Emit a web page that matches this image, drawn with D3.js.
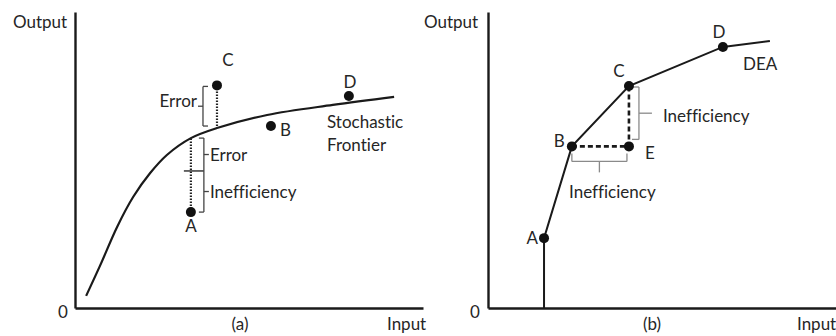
<!DOCTYPE html>
<html>
<head>
<meta charset="utf-8">
<script src="https://cdnjs.cloudflare.com/ajax/libs/d3/7.8.5/d3.min.js"></script>
<style>
  body { margin: 0; background: #fff; }
  text { font-family: Lato, "Open Sans", sans-serif; font-size: 17px; fill: #262626; font-variant-ligatures: none; }
</style>
</head>
<body>
<svg id="chart"></svg>
<script>
// panel (a): stochastic frontier (input, output on 0-100)
var frontierX = [3.2, 7.2, 12.1, 16.7, 21.6, 26.4, 33.3, 40.8, 55.2, 74.1, 91.7];
var frontierY = [4.1, 14.3, 27.4, 37.5, 45.6, 51.7, 57.4, 60.8, 65.2, 68.6, 71.3];
var sfNames = ["A", "B", "C", "D"];
var sfX = [33.3, 56.3, 40.8, 78.7];
var sfY = [32.4, 61.5, 75.2, 71.6];
var splitA = 46.3; // where error ends and inefficiency starts under A

// panel (b): DEA frontier
var deaX = [16.1, 16.1, 24.1, 40.5, 67.5, 81.0];
var deaY = [0, 23.6, 54.6, 75.0, 88.2, 90.2];
var deaNames = ["A", "B", "C", "D"];
var deaPtX = [16.1, 24.1, 40.5, 67.5];
var deaPtY = [23.6, 54.6, 75.0, 88.2];
var eX = 40.5, eY = 54.6;

var screen = { width: 836, height: 336 };

var svg = d3.select('#chart')
            .attr('width', screen.width)
            .attr('height', screen.height);

var yScale = d3.scaleLinear().domain([0, 100]).range([308, 12]);
var xA = d3.scaleLinear().domain([0, 100]).range([75, 423]);
var xB = d3.scaleLinear().domain([0, 100]).range([488, 836]);

// axes, no ticks, just the two lines
var drawAxes = function(g, xs, originX)
{
  g.append('g')
   .attr('transform', 'translate(0,' + yScale(0) + ')')
   .call(d3.axisBottom(xs).ticks(0).tickSizeOuter(0));
  g.append('g')
   .attr('transform', 'translate(' + originX + ',0)')
   .call(d3.axisLeft(yScale).ticks(0).tickSizeOuter(0));
  g.selectAll('.domain').attr('stroke', '#1a1a1a').attr('stroke-width', 2.4);
};

var panelA = svg.append('g');
var panelB = svg.append('g');
drawAxes(panelA, xA, xA(0));
drawAxes(panelB, xB, xB(0));

var lineCol = '#1a1a1a';

// ---------- panel (a) ----------
var frontier = frontierX.map(function(d, i){ return [d, frontierY[i]]; });
var lineA = d3.line()
              .x(function(d){ return xA(d[0]); })
              .y(function(d){ return yScale(d[1]); })
              .curve(d3.curveCatmullRom);

panelA.append('path')
      .datum(frontier)
      .attr('d', lineA)
      .attr('fill', 'none')
      .attr('stroke', lineCol)
      .attr('stroke-width', 2.2);

var onFrontier = function(x)
{
  var i = frontierX.indexOf(x);
  return frontierY[i];
};

// dotted drops from A and C to the frontier
var drops = [0, 2];
drops.forEach(function(i){
  panelA.append('line')
        .attr('x1', xA(sfX[i])).attr('x2', xA(sfX[i]))
        .attr('y1', yScale(sfY[i])).attr('y2', yScale(onFrontier(sfX[i])))
        .attr('stroke', '#222')
        .attr('stroke-width', 2.2)
        .attr('stroke-dasharray', '1.5,1.5');
});

var brCol = '#444';
var seg = function(g, x1, y1, x2, y2, col, w)
{
  g.append('line')
   .attr('x1', x1).attr('y1', y1).attr('x2', x2).attr('y2', y2)
   .attr('stroke', col).attr('stroke-width', w || 1.3);
};

// bracket next to C
var cx = xA(sfX[2]) - 14;
var cTop = yScale(sfY[2]) + 1, cBot = yScale(onFrontier(sfX[2])) - 2;
seg(panelA, cx, cTop, cx, cBot, brCol);
seg(panelA, cx, cTop, cx + 5, cTop, brCol);
seg(panelA, cx, cBot, cx + 5, cBot, brCol);
seg(panelA, cx, (cTop + cBot) / 2, cx - 5, (cTop + cBot) / 2, brCol);
panelA.append('text')
      .attr('x', cx - 6).attr('y', (cTop + cBot) / 2 + 1)
      .attr('text-anchor', 'end')
      .text('Error');

// brackets next to A
var ax = xA(sfX[0]) + 13;
var aTop = yScale(onFrontier(sfX[0])), aMid = yScale(splitA), aBot = yScale(sfY[0]);
seg(panelA, ax, aTop, ax, aBot, brCol);
seg(panelA, ax, aTop, ax - 5, aTop, brCol);
seg(panelA, ax, aBot, ax - 5, aBot, brCol);
seg(panelA, xA(sfX[0]) - 7, aMid, ax, aMid, brCol, 1.6);
seg(panelA, ax, (aTop + aMid) / 2, ax + 5, (aTop + aMid) / 2, brCol);
seg(panelA, ax, (aMid + aBot) / 2, ax + 5, (aMid + aBot) / 2, brCol);
panelA.append('text')
      .attr('x', ax + 6).attr('y', (aTop + aMid) / 2 + 6)
      .text('Error');
panelA.append('text')
      .attr('x', ax + 6).attr('y', (aMid + aBot) / 2 + 6)
      .text('Inefficiency');

panelA.selectAll('circle')
      .data(sfNames)
      .enter()
      .append('circle')
      .attr('cx', function(d, i){ return xA(sfX[i]); })
      .attr('cy', function(d, i){ return yScale(sfY[i]); })
      .attr('r', 5)
      .attr('fill', '#111');

// label offsets for A, B, C, D
var offA = [[0, 20, 'middle'], [9, 10, 'start'], [11, -19, 'middle'], [1, -8, 'middle']];
panelA.selectAll('.ptlabel')
      .data(sfNames)
      .enter()
      .append('text')
      .classed('ptlabel', true)
      .attr('x', function(d, i){ return xA(sfX[i]) + offA[i][0]; })
      .attr('y', function(d, i){ return yScale(sfY[i]) + offA[i][1]; })
      .attr('text-anchor', function(d, i){ return offA[i][2]; })
      .text(function(d){ return d; });

panelA.append('text').attr('x', 327).attr('y', 128).text('Stochastic');
panelA.append('text').attr('x', 327).attr('y', 151).text('Frontier');

// ---------- panel (b) ----------
var dea = deaX.map(function(d, i){ return [d, deaY[i]]; });
var lineB = d3.line()
              .x(function(d){ return xB(d[0]); })
              .y(function(d){ return yScale(d[1]); });

panelB.append('path')
      .datum(dea)
      .attr('d', lineB)
      .attr('fill', 'none')
      .attr('stroke', lineCol)
      .attr('stroke-width', 2);

// dashed B-E and C-E
panelB.append('path')
      .datum([[deaPtX[1], deaPtY[1]], [eX, eY], [deaPtX[2], deaPtY[2]]])
      .attr('d', lineB)
      .attr('fill', 'none')
      .attr('stroke', lineCol)
      .attr('stroke-width', 2.6)
      .attr('stroke-dasharray', '5,3');

var grey = '#8a8a8a';
// vertical brace right of C-E
var vx = xB(eX) + 10;
var vTop = yScale(deaPtY[2]) + 1, vBot = yScale(eY) - 7;
seg(panelB, vx, vTop, vx, vBot, grey, 1.3);
seg(panelB, vx, vTop, vx - 7, vTop, grey, 1.3);
seg(panelB, vx, vBot, vx - 7, vBot, grey, 1.3);
seg(panelB, vx, (vTop + vBot) / 2, vx + 13, (vTop + vBot) / 2, grey, 1.3);
panelB.append('text')
      .attr('x', vx + 24).attr('y', (vTop + vBot) / 2 + 9)
      .text('Inefficiency');

// horizontal brace under B-E
var hy = yScale(eY) + 15;
var hL = xB(deaPtX[1]), hR = xB(eX) - 2;
seg(panelB, hL, hy, hR, hy, grey, 1.3);
seg(panelB, hL, hy, hL, hy - 8, grey, 1.3);
seg(panelB, hR, hy, hR, hy - 8, grey, 1.3);
seg(panelB, (hL + hR) / 2, hy, (hL + hR) / 2, hy + 11, grey, 1.3);
panelB.append('text')
      .attr('x', (hL + hR) / 2 + 13).attr('y', hy + 37)
      .attr('text-anchor', 'middle')
      .text('Inefficiency');

var ptsB = deaNames.map(function(d, i){ return { name: d, x: deaPtX[i], y: deaPtY[i] }; });
ptsB.push({ name: 'E', x: eX, y: eY });

panelB.selectAll('circle')
      .data(ptsB)
      .enter()
      .append('circle')
      .attr('cx', function(d){ return xB(d.x); })
      .attr('cy', function(d){ return yScale(d.y); })
      .attr('r', 5)
      .attr('fill', '#111');

var offB = { A: [-6, 6, 'end'], B: [-7, 1, 'end'], C: [-10, -9, 'middle'], D: [-4, -9, 'middle'], E: [16, 13, 'start'] };
panelB.selectAll('.ptlabel')
      .data(ptsB)
      .enter()
      .append('text')
      .classed('ptlabel', true)
      .attr('x', function(d){ return xB(d.x) + offB[d.name][0]; })
      .attr('y', function(d){ return yScale(d.y) + offB[d.name][1]; })
      .attr('text-anchor', function(d){ return offB[d.name][2]; })
      .text(function(d){ return d.name; });

panelB.append('text').attr('x', 743).attr('y', 70).text('DEA');

// axis captions
svg.append('text').attr('x', 13).attr('y', 28).text('Output');
svg.append('text').attr('x', 424).attr('y', 28).text('Output');
svg.append('text').attr('x', 63).attr('y', 318).attr('text-anchor', 'middle').text('0');
svg.append('text').attr('x', 475).attr('y', 318).attr('text-anchor', 'middle').text('0');
svg.append('text').attr('x', 240).attr('y', 330).attr('text-anchor', 'middle').text('(a)');
svg.append('text').attr('x', 652).attr('y', 330).attr('text-anchor', 'middle').text('(b)');
svg.append('text').attr('x', 387).attr('y', 330).text('Input');
svg.append('text').attr('x', 797).attr('y', 330).text('Input');
</script>
</body>
</html>
